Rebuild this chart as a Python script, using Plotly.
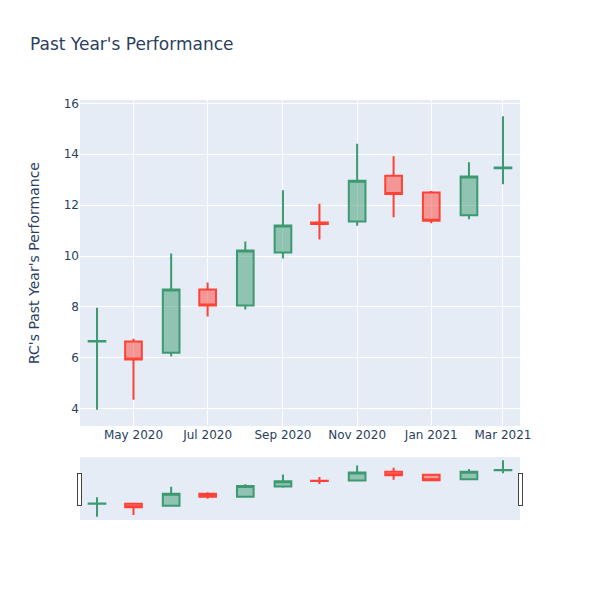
import plotly.graph_objects as go

dates = ["2020-04-01", "2020-05-01", "2020-06-01", "2020-07-01", "2020-08-01", "2020-09-01",
         "2020-10-01", "2020-11-01", "2020-12-01", "2021-01-01", "2021-02-01", "2021-03-01"]
opens = [6.64, 6.64, 6.20, 8.68, 8.05, 10.14, 11.32, 11.36, 13.15, 12.50, 11.60, 13.45]
highs = [7.97, 6.75, 10.10, 8.96, 10.57, 12.58, 12.05, 14.41, 13.92, 12.55, 13.68, 15.49]
lows = [3.96, 4.35, 6.05, 7.62, 7.90, 9.90, 10.65, 11.19, 11.52, 11.29, 11.44, 12.82]
closes = [6.66, 5.93, 8.68, 8.05, 10.22, 11.20, 11.26, 12.96, 12.44, 11.39, 13.12, 13.48]

fig = go.Figure(go.Candlestick(x=dates, open=opens, high=highs, low=lows, close=closes))
fig.update_layout(
    title=dict(text="Past Year's Performance", x=22 / 600, y=1 - 36 / 600, yanchor="middle"),
    yaxis_title="RC's Past Year's Performance",
    yaxis_title_standoff=20,
    font=dict(family="DejaVu Sans"),
    width=600, height=600,
    margin=dict(l=72, r=88, t=92, b=88),
)
fig.write_html("out.html")
